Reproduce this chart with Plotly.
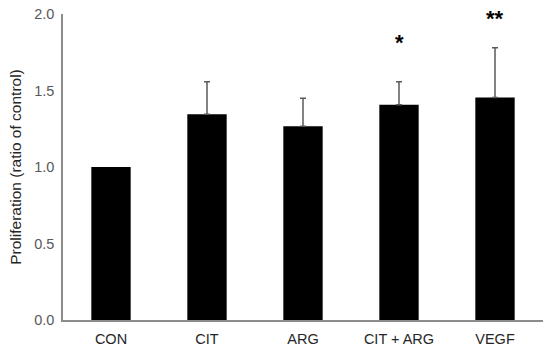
import plotly.graph_objects as go

categories = ["CON", "CIT", "ARG", "CIT + ARG", "VEGF"]
values = [1.0, 1.344, 1.266, 1.407, 1.455]
errors = [None, 0.214, 0.184, 0.151, 0.325]
significance = ["", "", "", "*", "**"]
y_ticks = [0.0, 0.5, 1.0, 1.5, 2.0]

fig = go.Figure()
fig.add_trace(go.Bar(
    x=categories, y=values,
    marker=dict(color="black", line=dict(width=0)),
    width=0.41,
))

err_x = [c for c, e in zip(categories, errors) if e is not None]
err_y = [v for v, e in zip(values, errors) if e is not None]
err_v = [e for e in errors if e is not None]
fig.add_trace(go.Scatter(
    x=err_x, y=err_y, mode="markers",
    marker=dict(size=1, color="rgba(0,0,0,0)"),
    error_y=dict(type="data", array=err_v, symmetric=False, arrayminus=[0]*len(err_v),
                 color="#595959", thickness=1.5, width=3),
    cliponaxis=False, hoverinfo="skip",
))

for c, v, e, s in zip(categories, values, errors, significance):
    if s:
        fig.add_annotation(x=c, y=v + (e or 0), text="<b>%s</b>" % s, showarrow=False,
                           yanchor="bottom", yshift=25 if len(s) == 1 else 15,
                           font=dict(family="Liberation Sans, Arial", size=22, color="black"))

fig.update_layout(
    width=550, height=353,
    margin=dict(l=63, r=7, t=14, b=33),
    paper_bgcolor="white", plot_bgcolor="white",
    showlegend=False,
    font=dict(family="Liberation Sans, Arial", color="#404040"),
)
fig.update_xaxes(showline=True, linecolor="#8c8c8c", linewidth=1.5, ticks="",
                 tickfont=dict(size=14.5, color="#262626"), showgrid=False,
                 ticklabelstandoff=5, automargin=False)
fig.update_yaxes(range=[0, 2], tickvals=y_ticks, tickformat=".1f",
                 showline=True, linecolor="#8c8c8c", linewidth=1.5, ticks="",
                 showgrid=False, zeroline=False, automargin=False,
                 tickfont=dict(size=14.5, color="#595959"),
                 ticklabelstandoff=4,
                 title=dict(text="Proliferation (ratio of control)", font=dict(size=15.5, color="#262626"), standoff=9))

fig.write_html("out.html", config={"displayModeBar": False},
               post_script="document.body.style.margin='0';")
